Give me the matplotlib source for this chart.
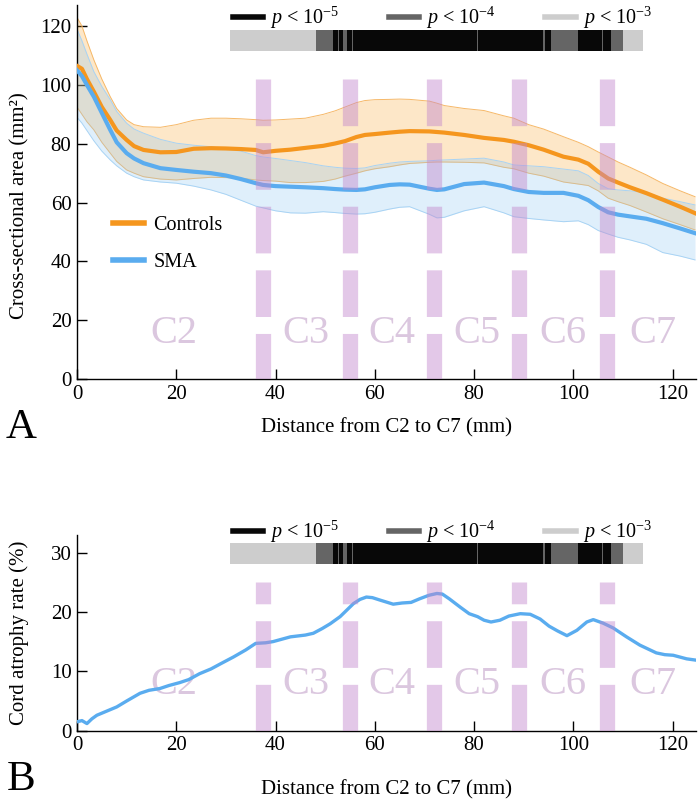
import matplotlib
matplotlib.use("Agg")
import matplotlib.pyplot as plt
from matplotlib.lines import Line2D

plt.rcParams['font.family'] = ['Liberation Serif', 'DejaVu Serif']
plt.rcParams['mathtext.fontset'] = 'custom'
plt.rcParams['mathtext.rm'] = 'Liberation Serif'
plt.rcParams['mathtext.it'] = 'Liberation Serif:italic'
plt.rcParams['lines.scale_dashes'] = False

# ---------------- data ----------------
dist_a = [0, 1, 2, 3.4, 5, 6.7, 8, 10, 11.5, 13.4,
          16.8, 20, 23.5, 27, 30, 33, 36, 37.5, 40, 43,
          46, 49.6, 52, 54, 56.3, 58, 60, 63, 65, 67,
          71, 72.5, 74, 78, 82, 86, 88, 91, 94, 98,
          101, 103, 105, 107, 109, 111.4, 114.7, 118, 121.5, 124.5]
ctrl_mean = [106.5, 105.5, 102, 97.7, 92.5, 88.1, 84.5, 81.3, 79.2, 77.9,
             77.1, 77.2, 78.3, 78.5, 78.4, 78.2, 77.9, 77.1, 77.6, 78.0,
             78.6, 79.3, 80.1, 80.9, 82.3, 83.0, 83.3, 83.8, 84.1, 84.3,
             84.2, 84.0, 83.8, 83.0, 82.0, 81.3, 80.7, 79.5, 78.0, 75.6,
             74.6, 73.2, 70.5, 68.2, 66.8, 65.2, 63.2, 61.0, 58.6, 56.4]
ctrl_upper = [123, 120, 115, 108.5, 102, 96, 92, 88.1, 86.5, 85.8,
              85.6, 86.5, 88.0, 88.7, 88.7, 88.5, 88.2, 88.0, 88.1, 88.4,
              88.7, 90.0, 91.2, 92.5, 94.0, 94.7, 95.0, 95.1, 95.2, 95.1,
              94.5, 93.8, 93.0, 92.0, 91.3, 89.5, 88.7, 86.5, 85.0, 82.4,
              80.5, 79.0, 77.2, 75.5, 73.8, 72.0, 69.4, 66.5, 64.0, 62.0]
ctrl_lower = [92.5, 90, 87.5, 84.7, 80.5, 76.8, 74, 71.1, 70, 68.8,
              68.0, 67.7, 68.2, 68.6, 68.5, 68.3, 67.7, 67.5, 67.3, 66.8,
              66.8, 67.2, 68.0, 69.0, 70.0, 70.8, 71.5, 72.2, 72.8, 73.3,
              73.7, 73.8, 73.8, 73.7, 73.5, 72.0, 71.5, 70.0, 69.0, 67.0,
              66.3, 65.8, 64.0, 61.5, 60.3, 59.0, 56.8, 54.5, 52.5, 50.7]
sma_mean = [105, 103, 100, 96, 90.5, 84.7, 80.5, 76.8, 75, 73.4,
            71.7, 71.1, 70.5, 70.0, 69.2, 68.0, 66.6, 66.0, 65.6, 65.4,
            65.2, 64.9, 64.6, 64.4, 64.3, 64.5, 65.2, 66.0, 66.2, 66.1,
            64.7, 64.3, 64.5, 66.3, 66.8, 65.6, 64.6, 63.6, 63.3, 63.3,
            62.3, 60.8, 58.5, 56.7, 55.9, 55.3, 54.5, 53.0, 51.2, 49.6]
sma_upper = [119, 115, 110.5, 104.5, 99.5, 95, 91, 87, 85, 83.6,
             81.5, 80.2, 79.5, 79.0, 78.2, 77.5, 76.0, 75.5, 75.0, 74.3,
             73.6, 72.5, 72.0, 71.7, 71.6, 71.8, 72.6, 73.4, 73.8, 74.0,
             74.2, 74.4, 74.5, 74.8, 75.1, 73.8, 72.8, 72.5, 72.2, 71.4,
             70.8, 69.2, 66.5, 64.7, 64.3, 64.0, 63.4, 61.5, 60.3, 59.2]
sma_lower = [89, 87, 84.5, 81, 77.5, 74.5, 72.5, 70, 68.8, 67.7,
             67.0, 66.6, 65.6, 64.3, 62.8, 60.8, 58.8, 58.2, 57.2, 56.5,
             56.4, 56.9, 56.6, 56.3, 56.1, 56.2, 56.7, 57.8, 58.4, 58.6,
             56.0, 54.8, 55.0, 57.2, 58.6, 56.5, 55.2, 54.6, 54.1, 53.5,
             53.8, 52.5, 50.5, 49.3, 48.2, 47.3, 45.8, 43.0, 41.8, 40.5]

dist_b = [0, 1, 2, 3, 4, 6, 8, 10, 12.7, 14.5,
          16.7, 18.5, 20.7, 22.5, 24.7, 27, 29, 31.5, 34, 36,
          38, 39.5, 43, 46, 47.6, 49.4, 51, 53, 55.7, 57,
          58.3, 59.5, 61, 63.7, 65.5, 67.3, 69, 70.9, 72.5, 73.6,
          75, 77.2, 79, 80.7, 82, 83.4, 85.2, 87, 89.3, 91.3,
          93.3, 95.1, 96.8, 98.7, 100.7, 102.7, 104, 106, 108, 110.7,
          113.4, 116.7, 118.4, 120.1, 122.8, 124.5]
atrophy = [1.5, 1.7, 1.2, 2.0, 2.6, 3.3, 4.0, 5.0, 6.3, 6.8,
           7.1, 7.6, 8.1, 8.6, 9.6, 10.4, 11.3, 12.4, 13.6, 14.7,
           14.8, 15.0, 15.8, 16.1, 16.4, 17.2, 18.0, 19.2, 21.4, 22.1,
           22.5, 22.4, 22.0, 21.3, 21.5, 21.6, 22.2, 22.8, 23.1, 23.0,
           22.2, 20.8, 19.7, 19.2, 18.6, 18.3, 18.6, 19.3, 19.7, 19.6,
           18.8, 17.6, 16.8, 16.0, 16.9, 18.3, 18.7, 18.1, 17.3, 15.8,
           14.4, 13.1, 12.8, 12.7, 12.1, 11.9]

# vertebral level boundaries and labels
level_x = [37.5, 55.0, 72.0, 89.0, 106.7]
level_names = ['C2', 'C3', 'C4', 'C5', 'C6', 'C7']
level_name_x = [19.5, 46.1, 63.4, 80.5, 97.8, 116.1]

# significance bar: segment start, end, level (1: p<1e-5, 2: p<1e-4, 3: p<1e-3)
sig_start = [30.8, 48.1, 51.6, 52.6, 52.8, 53.6, 54.3, 55.3, 55.7, 80.5, 80.8, 93.9, 94.2, 95.4, 101.0, 105.7, 106.0, 107.5, 110.0]
sig_end = [48.1, 51.6, 52.6, 52.8, 53.6, 54.3, 55.3, 55.7, 80.5, 80.8, 93.9, 94.2, 95.4, 101.0, 105.7, 106.0, 107.5, 110.0, 114.0]
sig_level = [3, 2, 1, 2, 1, 2, 1, 2, 1, 2, 1, 2, 1, 2, 1, 2, 1, 2, 3]
sig_labels = [r'$p$ < 10$^{-5}$', r'$p$ < 10$^{-4}$', r'$p$ < 10$^{-3}$']

# ---------------- style ----------------
ORANGE = '#f5961e'
BLUE = '#5aacef'
ORANGE_FILL = '#f8a93a'
BLUE_FILL = '#8cc6f2'
BAND = '#c387cc'
LABEL_C = '#dbc7df'
SIG_COLORS = {1: '#080808', 2: '#656565', 3: '#cdcdcd'}
FS = 15

fig = plt.figure(figsize=(7, 8.05), dpi=100)
axA = fig.add_axes([0.11, 0.5292, 0.8843, 0.4646])
axB = fig.add_axes([0.11, 0.0923, 0.8843, 0.2435])


def style_axes(ax):
    for s in ['top', 'right']:
        ax.spines[s].set_visible(False)
    for s in ['left', 'bottom']:
        ax.spines[s].set_linewidth(1.0)
    ax.tick_params(direction='in', length=7, width=1.0, labelsize=FS, pad=4)
    ax.set_xlim(0, 124.7)
    ax.set_xticks([0, 20, 40, 60, 80, 100, 120])


def draw_sig(ax, y0, h, leg_xy):
    for lev in (3, 2, 1):
        segs = [(s, e - s) for s, e, l in zip(sig_start, sig_end, sig_level) if l == lev]
        ax.broken_barh(segs, (y0, h), facecolors=SIG_COLORS[lev], edgecolor='none', zorder=5, clip_on=False)
    handles = [Line2D([], [], color=SIG_COLORS[k], lw=4) for k in (1, 2, 3)]
    leg = ax.legend(handles, sig_labels, loc='center left', bbox_to_anchor=leg_xy, ncol=3, frameon=False,
                    fontsize=14.5, handlelength=1.5, handletextpad=0.35, columnspacing=2.45,
                    borderpad=0, borderaxespad=0)
    return leg


def draw_levels(ax, y_from, y_to, label_y):
    for x in level_x:
        ax.plot([x, x], [y_from, y_to], color=BAND, alpha=0.45, lw=11, solid_capstyle='butt',
                dash_capstyle='butt', dashes=(33.6, 12.2), zorder=4)
    for x, name in zip(level_name_x, level_names):
        ax.text(x, label_y, name, color=LABEL_C, fontsize=29, ha='center', va='center', zorder=1)


# ---------------- panel A ----------------
style_axes(axA)
axA.set_ylim(0, 127.2)
axA.set_yticks([0, 20, 40, 60, 80, 100, 120])
axA.fill_between(dist_a, ctrl_lower, ctrl_upper, color=ORANGE_FILL, alpha=0.28, lw=0, zorder=2)
axA.plot(dist_a, ctrl_upper, color='#f6b868', lw=0.7, zorder=2)
axA.plot(dist_a, ctrl_lower, color='#f6b868', lw=0.7, zorder=2)
axA.fill_between(dist_a, sma_lower, sma_upper, color=BLUE_FILL, alpha=0.28, lw=0, zorder=2)
axA.plot(dist_a, sma_upper, color='#a8d3f4', lw=0.7, zorder=2)
axA.plot(dist_a, sma_lower, color='#a8d3f4', lw=0.7, zorder=2)
lc, = axA.plot(dist_a, ctrl_mean, color=ORANGE, lw=3, label='Controls', zorder=3)
ls, = axA.plot(dist_a, sma_mean, color=BLUE, lw=3, label='SMA', zorder=3)
draw_levels(axA, 102.0, 0, 15.5)
leg1 = axA.legend(handles=[lc, ls], loc='center left', bbox_to_anchor=(0.058, 0.361), frameon=False,
                  fontsize=14.5, handlelength=1.55, handletextpad=0.45, labelspacing=0.9,
                  borderpad=0, borderaxespad=0)
for h in leg1.get_lines():
    h.set_linewidth(4)
axA.add_artist(leg1)
draw_sig(axA, 111.6, 7.1, (0.252, 0.965))
axA.set_ylabel('Cross-sectional area (mm\u00b2)', fontsize=15)
axA.yaxis.set_label_coords(-0.076, 0.464)
axA.set_xlabel('Distance from C2 to C7 (mm)', fontsize=15, va='center')
axA.xaxis.set_label_coords(0.5, -0.131)

# ---------------- panel B ----------------
style_axes(axB)
axB.set_ylim(0, 33)
axB.set_yticks([0, 10, 20, 30])
axB.plot(dist_b, atrophy, color=BLUE, lw=2.4, zorder=3)
draw_levels(axB, 0, 25.1, 7.85)
draw_sig(axB, 28.0, 3.6, (0.252, 1.015))
axB.set_ylabel('Cord atrophy rate (%)', fontsize=15)
axB.yaxis.set_label_coords(-0.078, 0.5)
axB.set_xlabel('Distance from C2 to C7 (mm)', fontsize=15, va='center')
axB.xaxis.set_label_coords(0.5, -0.3025)

fig.text(0.03, 1 - 428 / 805, 'A', fontsize=31, ha='center', va='center')
fig.text(0.03, 1 - 780 / 805, 'B', fontsize=31, ha='center', va='center')

fig.savefig('out.png', dpi=100)
